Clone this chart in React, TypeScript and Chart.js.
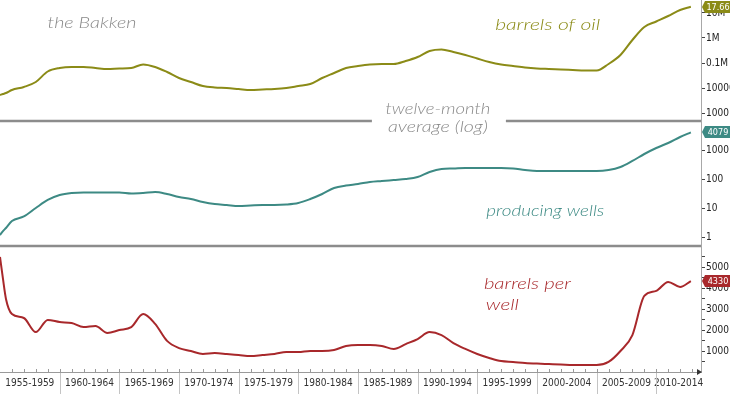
import React, { useEffect, useRef } from 'react';
import { Chart, registerables } from 'chart.js';

Chart.register(...registerables);

// ---------- data ----------
const years = [
  1955, 1955.25, 1955.5, 1956, 1957, 1958, 1959, 1960, 1961, 1962, 1963, 1964, 1965, 1966, 1967, 1968, 1969,
  1970, 1971, 1972, 1973, 1974, 1975, 1976, 1977, 1978, 1979, 1980, 1981, 1982, 1983, 1984, 1985, 1986,
  1987, 1988, 1989, 1990, 1991, 1992, 1993, 1994, 1995, 1996, 1997, 1998, 1999, 2000, 2001, 2002, 2003,
  2004, 2005, 2006, 2007, 2008, 2009, 2010, 2011, 2012, 2012.9,
];

const barrelsOfOil = [
  5250, 5750, 6300, 8300, 11000, 17400, 45700, 63100, 69200, 69200, 63100, 57500, 60300, 63100, 87100, 69200, 43700,
  25100, 17400, 12000, 10500, 10000, 9100, 8300, 8700, 9100, 10000, 12000, 14500, 25100, 39800, 63100, 75900, 87100,
  91200, 91200, 120000, 174000, 302000, 347000, 275000, 209000, 151000, 110000, 87100, 75900, 66100, 60300, 57500, 55000, 52500,
  50100, 50100, 91200, 209000, 832000, 2750000, 4570000, 7590000, 13200000, 17660000,
];

const producingWells = [
  1.17, 1.6, 2.04, 3.56, 5.1, 10, 18.9, 28, 32.9, 34.2, 34.2, 34.2, 34.2, 31.6, 32.9, 35.6, 30.4,
  23.9, 20.4, 16.1, 13.7, 12.7, 11.7, 12.2, 12.7, 12.7, 13.2, 14.9, 20.4, 30.4, 49, 59.7, 67.3, 78.8,
  85.4, 92.4, 100, 117, 174, 221, 230, 239, 239, 239, 239, 230, 204, 189, 189, 189, 189,
  189, 189, 204, 259, 418, 728, 1172, 1742, 2805, 4079,
];

const barrelsPerWell = [
  5480, 4430, 3480, 2760, 2570, 1900, 2480, 2380, 2330, 2140, 2190, 1860, 2000, 2140, 2760, 2290, 1480,
  1140, 1000, 860, 900, 860, 810, 760, 810, 860, 950, 950, 1000, 1000, 1050, 1240, 1290, 1290,
  1240, 1100, 1330, 1570, 1900, 1760, 1380, 1100, 860, 670, 520, 480, 430, 400, 380, 360, 330,
  330, 330, 480, 1000, 1760, 3620, 3860, 4290, 4050, 4330,
];

const periodStarts = [1955, 1960, 1965, 1970, 1975, 1980, 1985, 1990, 1995, 2000, 2005, 2010];
const periodLabels = [
  '1955-1959', '1960-1964', '1965-1969', '1970-1974', '1975-1979', '1980-1984',
  '1985-1989', '1990-1994', '1995-1999', '2000-2004', '2005-2009', '2010-2014',
];

const oilTickValues = [1000, 10000, 100000, 1000000, 10000000];
const oilTickLabels = ['1000', '10000', '0.1M', '1M', '10M'];
const wellTickValues = [1, 10, 100, 1000];
const wellTickLabels = ['1', '10', '100', '1000'];
const bpwTickValues = [500, 1000, 1500, 2000, 2500, 3000, 3500, 4000, 4500, 5000, 5500];
const bpwTickLabels = ['', '1000', '', '2000', '', '3000', '', '4000', '', '5000', ''];

// ---------- style ----------
const OLIVE = '#8b8b17';
const TEAL = '#3d8a84';
const RED = '#a8282b';
const GREY = '#8a8a8a';
const TICK_FONT = "'Liberation Sans Narrow', 'DejaVu Sans Condensed', 'Liberation Sans', sans-serif";
const NOTE_FONT = "italic 300 15px Lato, 'Open Sans', sans-serif";

const notes = [
  { text: 'the Bakken', color: GREY, scale: 'y1', year: 1962.7, value: 3.98e6, width: 89 },
  { text: 'barrels of oil', color: OLIVE, scale: 'y1', year: 2000.9, value: 3.31e6, width: 105 },
  { text: 'twelve-month', color: GREY, scale: 'y1', year: 1991.7, value: 1445, width: 105 },
  { text: 'average (log)', color: GREY, scale: 'y2', year: 1991.7, value: 6210, width: 100 },
  { text: 'producing wells', color: TEAL, scale: 'y2', year: 2000.7, value: 7.9, width: 118 },
  { text: 'barrels per', color: RED, scale: 'y3', year: 1999.2, value: 4190, width: 87 },
  { text: 'well', color: RED, scale: 'y3', year: 1997.1, value: 3190, width: 33 },
];

const decorPlugin = {
  id: 'decor',
  afterDraw(chart: any) {
    const { ctx, chartArea, scales } = chart;
    const x = scales.x;
    const left = chartArea.left;
    const right = chartArea.right;
    ctx.save();

    // panel separators
    ctx.strokeStyle = '#8c8c8c';
    ctx.lineWidth = 2.5;
    const sep1 = scales.y1.bottom;
    const sep2 = scales.y2.bottom;
    const gapC = x.getPixelForValue(1991.7);
    ctx.beginPath();
    ctx.moveTo(left, sep1); ctx.lineTo(gapC - 66, sep1);
    ctx.moveTo(gapC + 68, sep1); ctx.lineTo(right, sep1);
    ctx.moveTo(left, sep2); ctx.lineTo(right, sep2);
    ctx.stroke();

    // x axis: year ticks, dividers, arrow
    const axisY = chartArea.bottom;
    ctx.strokeStyle = '#9a9a9a';
    ctx.lineWidth = 1;
    ctx.beginPath();
    for (let yr = 1956; yr < x.max; yr++) {
      const px = Math.round(x.getPixelForValue(yr)) + 0.5;
      ctx.moveTo(px, axisY - 3); ctx.lineTo(px, axisY);
    }
    ctx.stroke();
    ctx.strokeStyle = '#c4c4c4';
    ctx.beginPath();
    periodStarts.slice(1).forEach((p) => {
      const px = Math.round(x.getPixelForValue(p)) + 0.5;
      ctx.moveTo(px, axisY + 1); ctx.lineTo(px, chart.height);
    });
    ctx.stroke();
    ctx.fillStyle = '#333';
    ctx.beginPath();
    ctx.moveTo(right + 1, axisY); ctx.lineTo(right - 4, axisY - 3); ctx.lineTo(right - 4, axisY + 3);
    ctx.closePath(); ctx.fill();

    // handwritten notes
    ctx.font = NOTE_FONT;
    ctx.textAlign = 'center';
    ctx.textBaseline = 'middle';
    notes.forEach((n) => {
      const cx = x.getPixelForValue(n.year);
      const cy = scales[n.scale].getPixelForValue(n.value);
      const w = ctx.measureText(n.text).width;
      ctx.save();
      ctx.translate(cx, cy);
      ctx.scale(n.width / w, 1);
      ctx.fillStyle = n.color;
      ctx.fillText(n.text, 0, 0);
      ctx.restore();
    });

    // last-value tags
    const tags = [
      { scale: 'y1', value: barrelsOfOil[barrelsOfOil.length - 1], text: (barrelsOfOil[barrelsOfOil.length - 1] / 1e6).toFixed(2), color: OLIVE },
      { scale: 'y2', value: producingWells[producingWells.length - 1], text: String(producingWells[producingWells.length - 1]), color: TEAL },
      { scale: 'y3', value: barrelsPerWell[barrelsPerWell.length - 1], text: String(barrelsPerWell[barrelsPerWell.length - 1]), color: RED },
    ];
    ctx.font = `9px ${TICK_FONT}`;
    ctx.textAlign = 'center';
    tags.forEach((t) => {
      const py = Math.round(scales[t.scale].getPixelForValue(t.value));
      const tip = right + 1;
      const bodyL = right + 4;
      const h = 12;
      ctx.fillStyle = t.color;
      ctx.beginPath();
      ctx.moveTo(tip, py);
      ctx.lineTo(bodyL, py - h / 2);
      ctx.lineTo(chart.width, py - h / 2);
      ctx.lineTo(chart.width, py + h / 2);
      ctx.lineTo(bodyL, py + h / 2);
      ctx.closePath();
      ctx.fill();
      ctx.fillStyle = '#ffffff';
      ctx.fillText(t.text, (bodyL + chart.width) / 2 + 0.5, py + 0.5);
    });
    ctx.restore();
  },
};

const tickFont = { family: TICK_FONT, size: 10 };

export default function App() {
  const canvasRef = useRef<HTMLCanvasElement | null>(null);

  useEffect(() => {
    if (!canvasRef.current) return;
    const mk = (vals: number[]) => years.map((yr, i) => ({ x: yr, y: vals[i] }));
    const line = (label: string, vals: number[], color: string, yAxisID: string) => ({
      label,
      data: mk(vals),
      borderColor: color,
      backgroundColor: color,
      borderWidth: 2,
      pointRadius: 0,
      cubicInterpolationMode: 'monotone' as const,
      yAxisID,
    });
    const yCommon = (weight: number) => ({
      position: 'right' as const,
      stack: 'panels',
      stackWeight: weight,
      grid: { drawOnChartArea: false, tickLength: 4, tickColor: '#444' },
      border: { color: '#a8a8a8' },
      afterFit: (s: any) => {
        s.width = 29;
        s.paddingTop = 0;
        s.paddingBottom = 0;
      },
    });
    const chart = new Chart(canvasRef.current, {
      type: 'line',
      data: {
        datasets: [
          line('barrels of oil', barrelsOfOil, OLIVE, 'y1'),
          line('producing wells', producingWells, TEAL, 'y2'),
          line('barrels per well', barrelsPerWell, RED, 'y3'),
        ],
      },
      options: {
        animation: false,
        responsive: false,
        layout: { padding: 0 },
        plugins: { legend: { display: false }, tooltip: { enabled: false } },
        scales: {
          x: {
            type: 'linear',
            min: 1955,
            max: 2013.75,
            afterBuildTicks: (s: any) => {
              s.ticks = periodStarts.map((p) => ({ value: (p + Math.min(p + 5, s.max)) / 2 }));
            },
            ticks: {
              autoSkip: false,
              maxRotation: 0,
              padding: 5,
              color: '#333',
              font: tickFont,
              callback: (_v: any, i: number) => periodLabels[i],
            },
            grid: { drawOnChartArea: false, drawTicks: false },
            border: { color: '#9a9a9a' },
            afterFit: (s: any) => {
              s.height = 22;
              s.paddingLeft = 0;
              s.paddingRight = 0;
            },
          },
          y1: {
            ...yCommon(121),
            type: 'logarithmic',
            min: 479,
            max: 3.31e7,
            afterBuildTicks: (s: any) => { s.ticks = oilTickValues.map((v) => ({ value: v })); },
            ticks: {
              autoSkip: false, padding: 1, color: '#222', font: tickFont,
              callback: (v: any) => oilTickLabels[oilTickValues.indexOf(v)] ?? '',
            },
          },
          y2: {
            ...yCommon(125),
            type: 'logarithmic',
            min: 0.49,
            max: 10000,
            afterBuildTicks: (s: any) => { s.ticks = wellTickValues.map((v) => ({ value: v })); },
            ticks: {
              autoSkip: false, padding: 1, color: '#222', font: tickFont,
              callback: (v: any) => wellTickLabels[wellTickValues.indexOf(v)] ?? '',
            },
          },
          y3: {
            ...yCommon(126),
            type: 'linear',
            min: 0,
            max: 6000,
            afterBuildTicks: (s: any) => { s.ticks = bpwTickValues.map((v) => ({ value: v })); },
            ticks: {
              autoSkip: false, padding: 1, color: '#222', font: tickFont,
              callback: (v: any) => bpwTickLabels[bpwTickValues.indexOf(v)] ?? '',
            },
          },
        },
      },
      plugins: [decorPlugin],
    } as any);
    return () => chart.destroy();
  }, []);

  return (
    <div style={{ position: 'absolute', left: 0, top: 0, width: 730, height: 394, background: '#fff' }}>
      <canvas ref={canvasRef} width={730} height={394} style={{ display: 'block' }} />
    </div>
  );
}
